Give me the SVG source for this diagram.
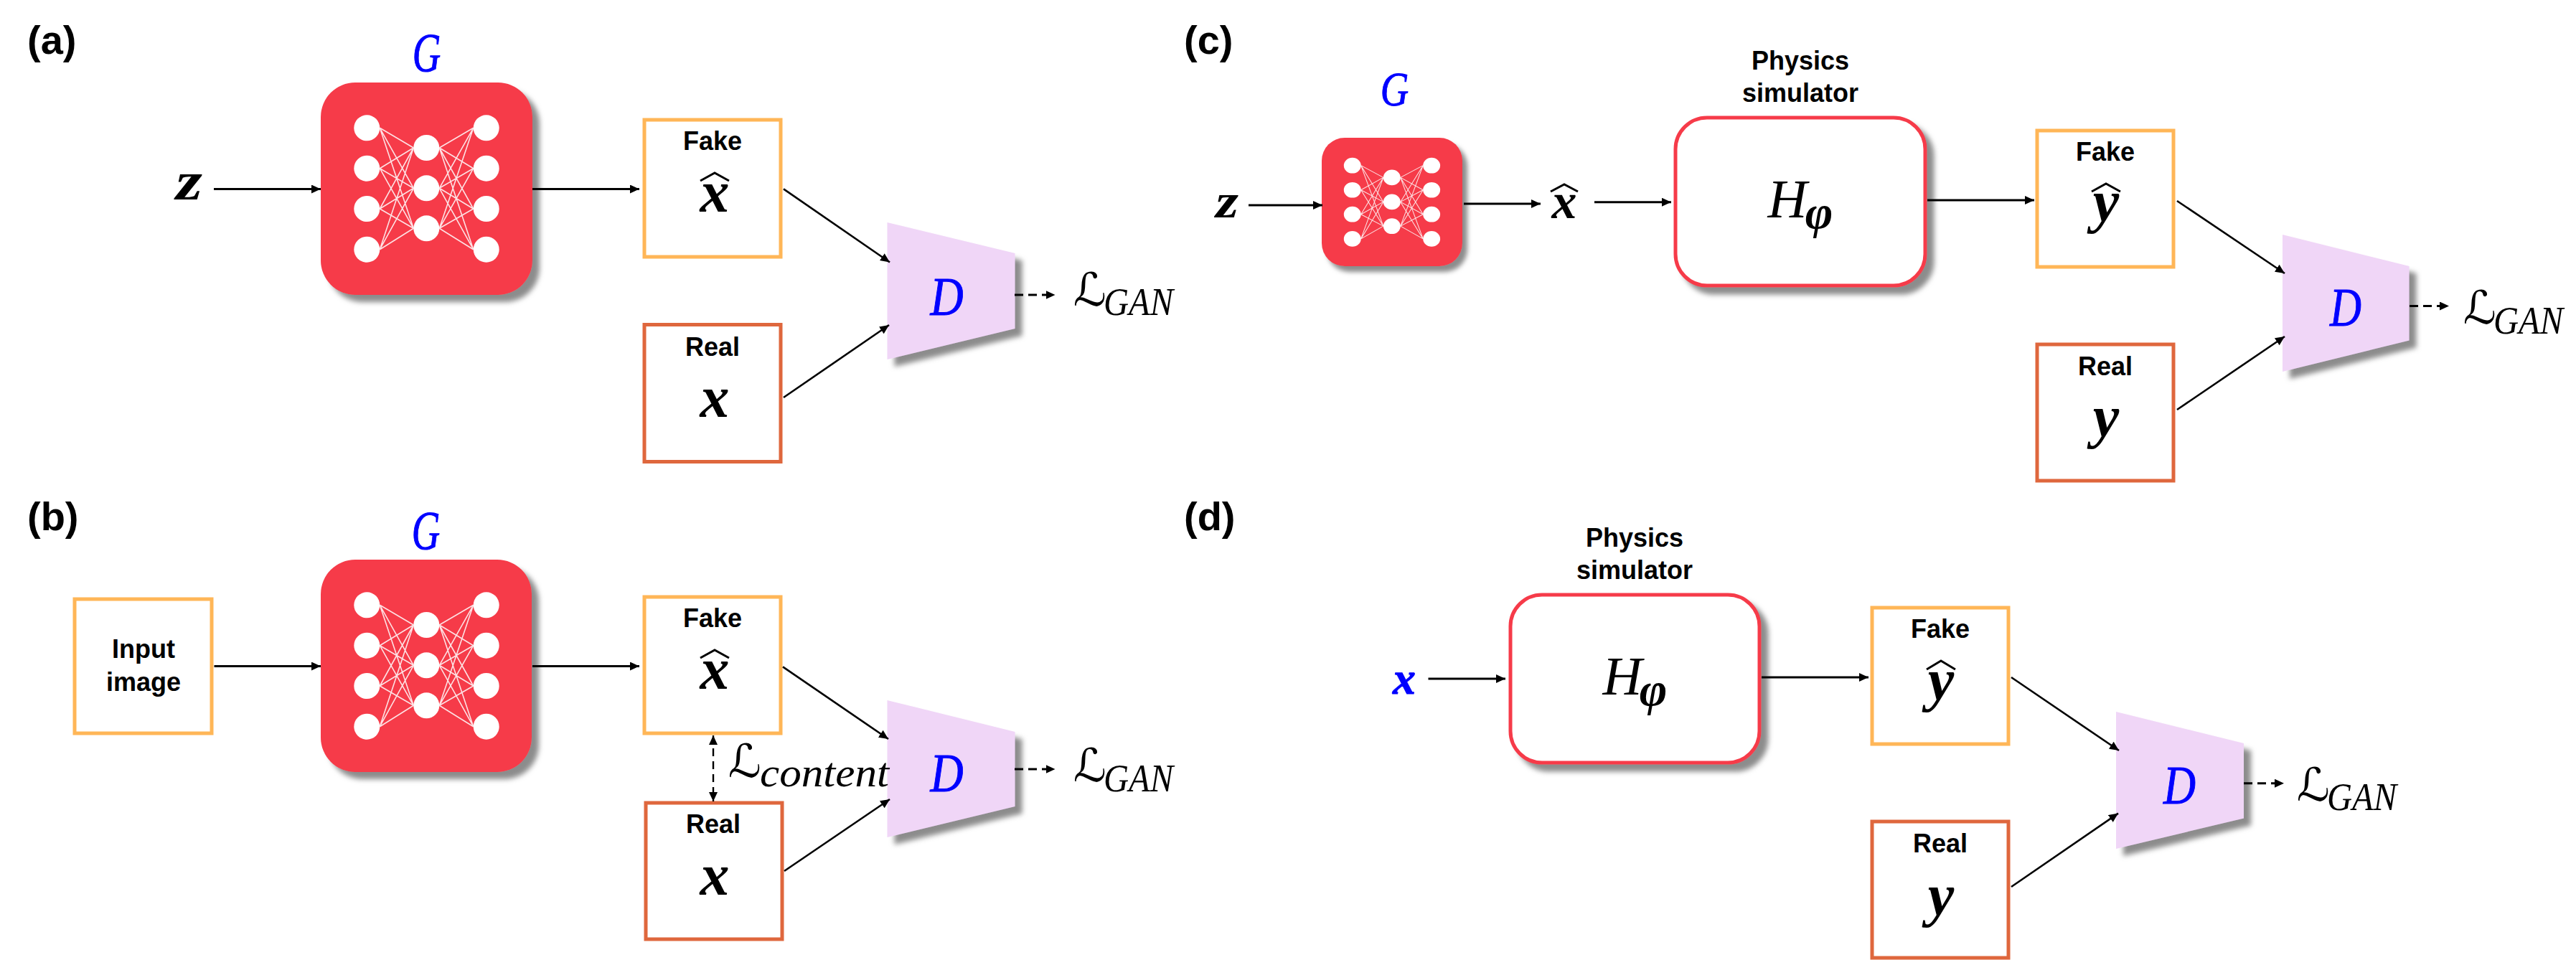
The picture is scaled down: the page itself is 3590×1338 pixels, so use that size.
<svg xmlns="http://www.w3.org/2000/svg" xmlns:xlink="http://www.w3.org/1999/xlink" width="3590" height="1338" viewBox="0 0 3590 1338">
<style>
text{font-family:"Liberation Serif","DejaVu Serif",serif;fill:#000}
.lab{font-family:"Liberation Sans",Arial,sans-serif;font-weight:700;font-size:36px;text-anchor:middle}
.pan{font-family:"Liberation Sans",Arial,sans-serif;font-weight:700;font-size:56px}
.mb{font-weight:700;font-style:italic;font-size:82px;text-anchor:middle}
.mi{font-style:italic;font-size:76px;text-anchor:middle}
.bl{fill:#0000ff;stroke:#0000ff;stroke-width:1}
.scr{font-family:"DejaVu Serif","DejaVu Sans",serif;font-size:64px}
.sub{font-style:italic;font-size:54px}
.fake{fill:#fff;stroke:#ffb657;stroke-width:5}
.real{fill:#fff;stroke:#df673d;stroke-width:5}
.gen{fill:#f63b4a}
.sim{fill:#fff;stroke:#f63b4a;stroke-width:5}
.disc{fill:#f0d6f7}
.hat{fill:none;stroke:#000;stroke-width:3}
#conn line{stroke:#000;stroke-width:3;marker-end:url(#ah)}
#conn .d{stroke-width:2.6}
#conn .dash{stroke-dasharray:12 7}
#conn .both{stroke-width:2.4;stroke-dasharray:11 7;marker-start:url(#ah2);marker-end:url(#ah2)}
#net circle{fill:#fff}
#net path{fill:none;stroke:#fff;stroke-width:1.6;stroke-opacity:.85}
</style>
<defs>
<filter id="sh" x="-15%" y="-15%" width="135%" height="135%"><feDropShadow dx="10" dy="10" stdDeviation="3.5" flood-color="#8c8c8c" flood-opacity="1"/></filter>
<filter id="shs" x="-15%" y="-15%" width="135%" height="135%"><feDropShadow dx="7" dy="8" stdDeviation="3" flood-color="#8c8c8c" flood-opacity="1"/></filter>
<marker id="ah" markerUnits="userSpaceOnUse" markerWidth="14" markerHeight="12" refX="13" refY="6" orient="auto"><path d="M0,0L13,6L0,12z" fill="#000"/></marker>
<marker id="ah2" markerUnits="userSpaceOnUse" markerWidth="14" markerHeight="12" refX="13" refY="6" orient="auto-start-reverse"><path d="M0,0L13,6L0,12z" fill="#000"/></marker>
<g id="net">
<path d="M529.3,178.3L576.3,206M529.3,178.3L576.3,262.3M529.3,178.3L576.3,318.3M529.3,234.7L576.3,206M529.3,234.7L576.3,262.3M529.3,234.7L576.3,318.3M529.3,291L576.3,206M529.3,291L576.3,262.3M529.3,291L576.3,318.3M529.3,347.7L576.3,206M529.3,347.7L576.3,262.3M529.3,347.7L576.3,318.3M612.3,206L659.7,178.3M612.3,206L659.7,234.7M612.3,206L659.7,291M612.3,206L659.7,347.7M612.3,262.3L659.7,178.3M612.3,262.3L659.7,234.7M612.3,262.3L659.7,291M612.3,262.3L659.7,347.7M612.3,318.3L659.7,178.3M612.3,318.3L659.7,234.7M612.3,318.3L659.7,291M612.3,318.3L659.7,347.7"/>
<circle cx="511.3" cy="178.3" r="18"/><circle cx="511.3" cy="234.7" r="18"/><circle cx="511.3" cy="291" r="18"/><circle cx="511.3" cy="347.7" r="18"/>
<circle cx="594.3" cy="206" r="18"/><circle cx="594.3" cy="262.3" r="18"/><circle cx="594.3" cy="318.3" r="18"/>
<circle cx="677.7" cy="178.3" r="18"/><circle cx="677.7" cy="234.7" r="18"/><circle cx="677.7" cy="291" r="18"/><circle cx="677.7" cy="347.7" r="18"/>
</g>
</defs>
<rect width="3590" height="1338" fill="#fff"/>

<g id="panel-labels">
<text class="pan" x="38" y="75">(a)</text>
<text class="pan" x="38" y="739">(b)</text>
<text class="pan" x="1650" y="75">(c)</text>
<text class="pan" x="1650" y="739">(d)</text>
</g>

<g id="a-z"><text class="mb" transform="translate(263.5 278) scale(1.25 1)" style="font-size:76px">z</text></g>
<g id="a-G"><rect class="gen" x="447" y="115" width="295" height="296" rx="48" filter="url(#sh)"/><use xlink:href="#net" href="#net"/>
<text class="mi bl" transform="translate(594.5 99) scale(.72 1)">G</text></g>
<g id="a-fake"><rect class="fake" x="898" y="167" width="190" height="191"/><text class="lab" x="993" y="209">Fake</text><text class="mb" x="996" y="295">x</text><path class="hat" d="M976,252L996,241L1016,252"/></g>
<g id="a-real"><rect class="real" x="898" y="452.5" width="190" height="191"/><text class="lab" x="993" y="495.6">Real</text><text class="mb" x="996" y="581">x</text></g>
<g id="a-D"><polygon class="disc" points="1236.5,310 1414.5,353 1414.5,458 1236.5,501" filter="url(#sh)"/><text class="mi bl" transform="translate(1319.5 439) scale(.84 1)">D</text></g>
<g id="a-loss"><text><tspan class="scr" x="1496" y="426">ℒ</tspan><tspan class="sub" x="1538" y="439" textLength="97" lengthAdjust="spacingAndGlyphs">GAN</tspan></text></g>

<g id="b-input"><rect class="fake" x="104" y="835" width="191" height="187"/><text class="lab" x="200" y="917">Input</text><text class="lab" x="200" y="963">image</text></g>
<g id="b-G"><rect class="gen" x="447" y="780" width="294" height="296" rx="48" filter="url(#sh)"/><use xlink:href="#net" href="#net" transform="translate(0 665)"/>
<text class="mi bl" transform="translate(593.5 765) scale(.72 1)">G</text></g>
<g id="b-fake"><rect class="fake" x="898" y="832" width="190" height="190"/><text class="lab" x="993" y="874">Fake</text><text class="mb" x="996" y="960">x</text><path class="hat" d="M976,917L996,906L1016,917"/></g>
<g id="b-real"><rect class="real" x="900" y="1119" width="190" height="190"/><text class="lab" x="994" y="1160.7">Real</text><text class="mb" x="996" y="1247">x</text></g>
<g id="b-D"><polygon class="disc" points="1236.5,976 1414.5,1020 1414.5,1124 1236.5,1167" filter="url(#sh)"/><text class="mi bl" transform="translate(1319.5 1103) scale(.84 1)">D</text></g>
<g id="b-content"><text><tspan class="scr" x="1015" y="1083">ℒ</tspan><tspan class="sub" x="1059" y="1096" textLength="180" lengthAdjust="spacingAndGlyphs" style="font-size:58px">content</tspan></text></g>
<g id="b-loss"><text><tspan class="scr" x="1496" y="1089">ℒ</tspan><tspan class="sub" x="1538" y="1103" textLength="97" lengthAdjust="spacingAndGlyphs">GAN</tspan></text></g>

<g id="c-z"><text class="mb" transform="translate(1710 303) scale(1.2 1)" style="font-size:68px">z</text></g>
<g id="c-G"><rect class="gen" x="1842" y="192" width="196" height="179" rx="32" filter="url(#shs)"/><use xlink:href="#net" href="#net" transform="translate(1545.5 123.1) scale(.6635 .6035)"/>
<text class="mi bl" transform="translate(1943.5 147) scale(.72 .88)">G</text></g>
<g id="c-xhat"><text class="mb" x="2180" y="304" style="font-size:70px">x</text><path class="hat" d="M2161,267L2180,257L2199,267"/></g>
<g id="c-sim"><text class="lab" x="2509" y="97">Physics</text><text class="lab" x="2509" y="142">simulator</text><rect class="sim" x="2335" y="164" width="348" height="234" rx="44" filter="url(#sh)"/>
<text class="mi" x="2491" y="303">H</text><text class="mb" x="2535" y="318" style="font-size:66px">φ</text></g>
<g id="c-fake"><rect class="fake" x="2839" y="182" width="190" height="190"/><text class="lab" x="2934" y="223.6">Fake</text><text class="mb" x="2935" y="308">y</text><path class="hat" d="M2915,267L2935,256L2955,267"/></g>
<g id="c-real"><rect class="real" x="2839" y="480" width="190" height="190"/><text class="lab" x="2934" y="523">Real</text><text class="mb" x="2935" y="608">y</text></g>
<g id="c-D"><polygon class="disc" points="3181,327 3357.5,371 3357.5,474.5 3181,518" filter="url(#sh)"/><text class="mi bl" transform="translate(3269 454) scale(.8 1)">D</text></g>
<g id="c-loss"><text><tspan class="scr" x="3433" y="451">ℒ</tspan><tspan class="sub" x="3475" y="465" textLength="97" lengthAdjust="spacingAndGlyphs">GAN</tspan></text></g>

<g id="d-x"><text class="mb bl" x="1957" y="967" style="font-size:64px">x</text></g>
<g id="d-sim"><text class="lab" x="2278" y="762">Physics</text><text class="lab" x="2278" y="807">simulator</text><rect class="sim" x="2105" y="829" width="347" height="234" rx="44" filter="url(#sh)"/>
<text class="mi" x="2261" y="968">H</text><text class="mb" x="2304" y="983" style="font-size:66px">φ</text></g>
<g id="d-fake"><rect class="fake" x="2609" y="847" width="190" height="190"/><text class="lab" x="2704" y="889">Fake</text><text class="mb" x="2705" y="975">y</text><path class="hat" d="M2685,933L2705,921L2725,933"/></g>
<g id="d-real"><rect class="real" x="2609" y="1145" width="190" height="190"/><text class="lab" x="2704" y="1188">Real</text><text class="mb" x="2705" y="1274.5">y</text></g>
<g id="d-D"><polygon class="disc" points="2949,992 3127,1036 3127,1140.5 2949,1183" filter="url(#sh)"/><text class="mi bl" transform="translate(3037.5 1120) scale(.82 1)">D</text></g>
<g id="d-loss"><text><tspan class="scr" x="3201" y="1116">ℒ</tspan><tspan class="sub" x="3243" y="1129" textLength="97" lengthAdjust="spacingAndGlyphs">GAN</tspan></text></g>

<g id="conn">
<line x1="298" y1="263.5" x2="447" y2="263.5"/>
<line x1="742" y1="263.5" x2="891" y2="263.5"/>
<line class="d" x1="1092" y1="263.4" x2="1240" y2="365.5"/>
<line class="d" x1="1092" y1="554" x2="1239" y2="453"/>
<line class="dash" x1="1414" y1="411" x2="1470.5" y2="411"/>
<line x1="298.5" y1="928.5" x2="447" y2="928.5"/>
<line x1="742" y1="928.5" x2="891" y2="928.5"/>
<line class="d" x1="1091" y1="929.4" x2="1238" y2="1030"/>
<line class="d" x1="1093" y1="1214" x2="1240" y2="1114"/>
<line class="both" x1="994" y1="1025" x2="994" y2="1117"/>
<line class="dash" x1="1414" y1="1072" x2="1470.5" y2="1072"/>
<line x1="1740" y1="286" x2="1843" y2="286"/>
<line x1="2040" y1="284" x2="2147" y2="284"/>
<line x1="2222" y1="281.7" x2="2329" y2="281.7"/>
<line x1="2686" y1="279" x2="2835" y2="279"/>
<line class="d" x1="3034" y1="280" x2="3184" y2="381"/>
<line class="d" x1="3034" y1="571" x2="3184" y2="469"/>
<line class="dash" x1="3358" y1="426.5" x2="3413" y2="426.5"/>
<line x1="1990.5" y1="946" x2="2098" y2="946"/>
<line x1="2455" y1="944" x2="2604" y2="944"/>
<line class="d" x1="2803" y1="944" x2="2953" y2="1046"/>
<line class="d" x1="2803" y1="1236" x2="2952" y2="1133.6"/>
<line class="dash" x1="3127" y1="1091.7" x2="3183" y2="1091.7"/>
</g>
</svg>
